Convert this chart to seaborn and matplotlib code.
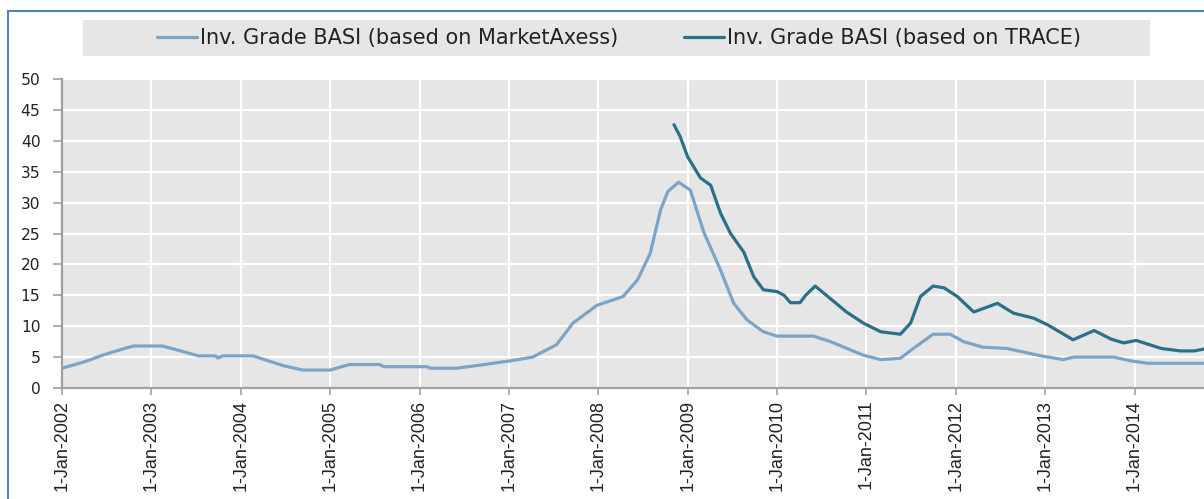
import pandas as pd
import numpy as np
import matplotlib
matplotlib.use('Agg')
import matplotlib.pyplot as plt
from matplotlib.lines import Line2D
from matplotlib.patches import Rectangle
import seaborn as sns

# data
mkx_dates = ['2002-01-01', '2002-04-08', '2002-06-15', '2002-09-05', '2002-10-20', '2003-02-15',
             '2003-05-10', '2003-07-12', '2003-09-20', '2003-10-01', '2003-10-20', '2004-02-20',
             '2004-06-25', '2004-09-12', '2005-01-01', '2005-03-20', '2005-07-22', '2005-08-08',
             '2006-02-01', '2006-02-15', '2006-06-01', '2006-09-05', '2007-01-08', '2007-04-08',
             '2007-07-15', '2007-09-20', '2007-12-28', '2008-04-12', '2008-06-10', '2008-08-01',
             '2008-09-12', '2008-10-12', '2008-11-25', '2009-01-12', '2009-03-08', '2009-05-15',
             '2009-07-08', '2009-09-01', '2009-11-06', '2010-01-01', '2010-05-30', '2010-08-08',
             '2010-12-20', '2011-03-01', '2011-05-20', '2011-07-12', '2011-10-01', '2011-12-10',
             '2012-02-02', '2012-04-22', '2012-07-28', '2012-12-15', '2013-03-15', '2013-04-28',
             '2013-10-08', '2013-12-15', '2014-02-25', '2014-10-12']
mkx_values = [3.2, 4.3, 5.3, 6.3, 6.8, 6.8,
              5.9, 5.2, 5.2, 4.85, 5.2, 5.2,
              3.6, 2.9, 2.9, 3.8, 3.8, 3.45,
              3.45, 3.2, 3.2, 3.7, 4.4, 5.0,
              7.0, 10.5, 13.4, 14.8, 17.5, 21.8,
              28.8, 31.8, 33.3, 32.0, 25.2, 19.1,
              13.7, 11.0, 9.1, 8.4, 8.4, 7.5,
              5.3, 4.6, 4.8, 6.4, 8.7, 8.7,
              7.5, 6.6, 6.4, 5.2, 4.6, 5.0,
              5.0, 4.4, 4.0, 4.0]

trace_dates = ['2008-11-06', '2008-12-01', '2009-01-01', '2009-02-22', '2009-04-05', '2009-05-15',
               '2009-06-25', '2009-08-18', '2009-09-28', '2009-11-06', '2010-01-01', '2010-01-30',
               '2010-02-25', '2010-04-05', '2010-04-28', '2010-06-06', '2010-08-15', '2010-10-12',
               '2010-12-20', '2011-03-01', '2011-05-20', '2011-07-01', '2011-08-10', '2011-10-01',
               '2011-11-15', '2012-01-08', '2012-03-15', '2012-06-20', '2012-08-25', '2012-11-15',
               '2013-01-12', '2013-04-25', '2013-07-20', '2013-09-28', '2013-11-18', '2014-01-08',
               '2014-04-20', '2014-07-08', '2014-09-02', '2014-10-12']
trace_values = [42.6, 40.7, 37.4, 34.0, 32.8, 28.3,
                25.0, 22.0, 18.0, 15.9, 15.6, 15.0,
                13.8, 13.8, 15.0, 16.5, 14.2, 12.3,
                10.5, 9.1, 8.7, 10.5, 14.8, 16.5,
                16.2, 14.8, 12.3, 13.7, 12.1, 11.3,
                10.2, 7.8, 9.3, 7.9, 7.3, 7.7,
                6.4, 6.0, 6.0, 6.3]

series_names = ['Inv. Grade BASI (based on MarketAxess)', 'Inv. Grade BASI (based on TRACE)']
tick_years = list(range(2002, 2015))
tick_labels = [f'1-Jan-{y}' for y in tick_years]
y_ticks = list(range(0, 55, 5))

df = pd.concat([
    pd.DataFrame({'date': pd.to_datetime(mkx_dates), 'value': mkx_values, 'series': series_names[0]}),
    pd.DataFrame({'date': pd.to_datetime(trace_dates), 'value': trace_values, 'series': series_names[1]}),
])

sns.set_style('darkgrid', {'axes.facecolor': '#e6e6e6', 'grid.color': 'white'})
plt.rcParams['font.family'] = ['DejaVu Sans']

W, H = 1204, 499
fig = plt.figure(figsize=(W / 100, H / 100), dpi=100)
ax = fig.add_axes([62 / W, 1 - 388 / H, 1 - 62 / W, (388 - 79) / H])

palette = {series_names[0]: '#7ba5c8', series_names[1]: '#2a7089'}
sns.lineplot(data=df, x='date', y='value', hue='series', palette=palette,
             linewidth=2.3, ax=ax, legend=False)

ax.set_xlim(pd.Timestamp('2002-01-01'), pd.Timestamp('2014-10-12'))
ax.set_ylim(0, 50)
ax.set_xticks(pd.to_datetime([f'{y}-01-01' for y in tick_years]))
ax.set_xticklabels(tick_labels, rotation=90, family='Liberation Sans', fontsize=13, color='#222222')
ax.set_yticks(y_ticks)
ax.set_yticklabels([str(v) for v in y_ticks], fontsize=11.2, color='#222222')
ax.set_xlabel('')
ax.set_ylabel('')
ax.grid(True, color='white', linewidth=1.5)

for side in ['top', 'right']:
    ax.spines[side].set_visible(False)
for side in ['left', 'bottom']:
    ax.spines[side].set_visible(True)
    ax.spines[side].set_color('#a0a0a0')
    ax.spines[side].set_linewidth(1.6)
ax.tick_params(axis='y', length=6.5, width=1.2, color='#a0a0a0', pad=9, left=True)
ax.tick_params(axis='x', length=5, width=1.2, color='#a0a0a0', pad=3.5, bottom=True)

# outer frame (only left and top visible)
fig.add_artist(Line2D([8 / W, 8 / W], [0, 1 - 11 / H], transform=fig.transFigure, color='#4f81bd', lw=1.5))
fig.add_artist(Line2D([8 / W, 1], [1 - 11 / H, 1 - 11 / H], transform=fig.transFigure, color='#4f81bd', lw=1.5))

# legend with grey band
fig.add_artist(Rectangle((83 / W, 1 - 56 / H), (1150 - 83) / W, 36 / H, transform=fig.transFigure,
                         facecolor='#e6e6e6', edgecolor='none', zorder=0))
handles = [Line2D([], [], color=palette[n], lw=2.3) for n in series_names]
fig.legend(handles, series_names, loc='center', bbox_to_anchor=(619 / W, 1 - 38 / H),
           bbox_transform=fig.transFigure, ncol=2, frameon=False, fontsize=15,
           handlelength=1.92, handletextpad=0.14, columnspacing=3.2, labelcolor='#222222')

fig.savefig('out.png', dpi=100)
